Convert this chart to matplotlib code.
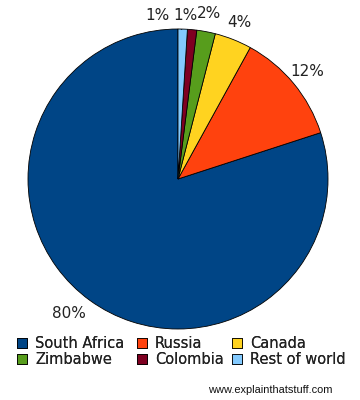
import matplotlib
matplotlib.use("Agg")
import matplotlib.pyplot as plt
from matplotlib.patches import Patch

countries = ["South Africa", "Russia", "Canada", "Zimbabwe", "Colombia", "Rest of world"]
shares = [80, 12, 4, 2, 1, 1]
colors = ["#004586", "#ff420e", "#ffd320", "#579d1c", "#7e0021", "#83caff"]

plt.rcParams['font.family'] = ['DejaVu Sans']

fig = plt.figure(figsize=(3.6, 4.0), dpi=100)
ax = fig.add_axes([28/360, 1 - 329/400, 300/360, 300/400])

wedges, texts, autotexts = ax.pie(
    shares, colors=colors, startangle=90, counterclock=True,
    autopct='%d%%', pctdistance=1.12, radius=1.0,
    wedgeprops=dict(edgecolor='black', linewidth=0.6),
    textprops=dict(fontsize=11, color='#222222'))
ax.set_xlim(-1, 1)
ax.set_ylim(-1, 1)
ax.set_aspect('equal')

# Tweak crowded small-slice labels
autotexts[0].set_position((-0.73, -0.90))
autotexts[4].set_position((0.05, 1.087))
autotexts[5].set_position((-0.14, 1.087))
ax.plot([-0.067, 0.025], [1.047, 0.998], color='black', lw=0.6)

handles = [Patch(facecolor=c, edgecolor='black', linewidth=0.6) for c in colors]
# legend laid out in three columns (row-wise reading order)
columns = [[0, 3], [1, 4], [2, 5]]
col_x = [17, 137, 232]
for idx, x in zip(columns, col_x):
    leg = fig.legend([handles[i] for i in idx], [countries[i] for i in idx],
                     loc='upper left', bbox_to_anchor=(x/360, 1 - 336/400),
                     frameon=False, fontsize=10.5, handlelength=0.68, handleheight=0.68,
                     handletextpad=0.55, labelspacing=0.1,
                     borderaxespad=0, borderpad=0, labelcolor='#222222')
    fig.add_artist(leg)

fig.text(333/360, 1 - 390/400, "www.explainthatstuff.com", ha='right', va='center',
         fontsize=7.9, family='Liberation Sans', color='#111111')

fig.savefig("out.png", dpi=100, facecolor='white')
